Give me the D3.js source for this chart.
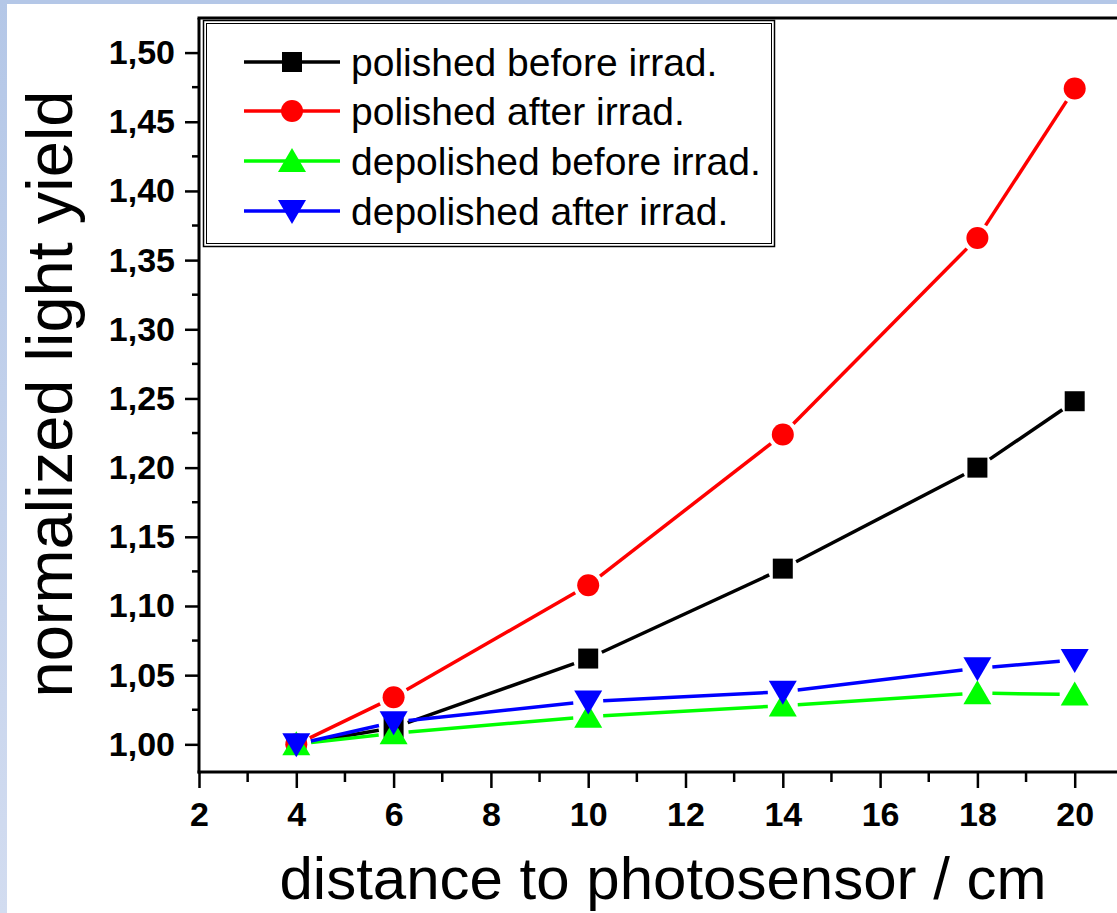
<!DOCTYPE html>
<html>
<head>
<meta charset="utf-8">
<script src="https://cdn.jsdelivr.net/npm/d3@7"></script>
<style>
  html, body { margin: 0; padding: 0; background: #fff; }
  svg { display: block; }
</style>
</head>
<body>
<svg id="chart" width="1117" height="913"></svg>
<script>
// distance to photosensor (cm)
const distances = [4, 6, 10, 14, 18, 20];

// normalized light yield per sample
const polishedBefore   = [1.000, 1.012, 1.062, 1.127, 1.200, 1.248];
const polishedAfter    = [1.000, 1.034, 1.115, 1.224, 1.366, 1.474];
const depolishedBefore = [1.000, 1.008, 1.020, 1.028, 1.037, 1.036];
const depolishedAfter  = [1.000, 1.016, 1.031, 1.038, 1.055, 1.061];

const seriesNames = [
  "polished before irrad.",
  "polished after irrad.",
  "depolished before irrad.",
  "depolished after irrad."
];

const xTickValues = [2, 4, 6, 8, 10, 12, 14, 16, 18, 20];
const yTickValues = [1.00, 1.05, 1.10, 1.15, 1.20, 1.25, 1.30, 1.35, 1.40, 1.45, 1.50];

const series = [
  { name: seriesNames[0], values: polishedBefore,   color: "#000000", symbol: "square" },
  { name: seriesNames[1], values: polishedAfter,    color: "#ff0000", symbol: "circle" },
  { name: seriesNames[2], values: depolishedBefore, color: "#00ff00", symbol: "up" },
  { name: seriesNames[3], values: depolishedAfter,  color: "#0000ff", symbol: "down" }
];

const svg = d3.select("#chart");
const W = 1117, H = 913;
const plotLeft = 199, plotRight = 1172, plotTop = 18, plotBottom = 772;

// page background with a pale blue frame on the top and left edges
const defs = svg.append("defs");
const grad = defs.append("linearGradient").attr("id", "edge").attr("x1", 0).attr("y1", 0).attr("x2", 0).attr("y2", 1);
grad.append("stop").attr("offset", "0%").attr("stop-color", "#b4c7e7");
grad.append("stop").attr("offset", "100%").attr("stop-color", "#d2dcf0");
svg.append("rect").attr("width", W).attr("height", H).attr("fill", "#ffffff");
svg.append("rect").attr("width", W).attr("height", 4).attr("fill", "#b4c7e7");
svg.append("rect").attr("width", 7).attr("height", H).attr("fill", "url(#edge)");

const x = d3.scaleLinear().domain([2, 22]).range([plotLeft, plotRight]);
const y = d3.scaleLinear().domain([0.98, 1.525]).range([plotBottom, plotTop]);

const tickFont = "'Liberation Sans', Arial, sans-serif";

// x axis: major ticks every 2 cm, minor every 1 cm
const xMinor = d3.range(3, 22, 2);
const xAxisG = svg.append("g").attr("transform", `translate(0,${plotBottom})`);
xAxisG.call(d3.axisBottom(x).tickValues(xTickValues).tickSize(16).tickFormat(d3.format("d")).tickPadding(14));
xAxisG.select(".domain").remove();
xAxisG.selectAll(".tick line").attr("stroke", "#000").attr("stroke-width", 2.5);
xAxisG.selectAll(".tick text")
  .attr("font-family", tickFont).attr("font-weight", "bold").attr("font-size", 34).attr("fill", "#000");
xAxisG.selectAll(".minor").data(xMinor).enter().append("line")
  .attr("x1", d => x(d)).attr("x2", d => x(d)).attr("y1", 0).attr("y2", 10)
  .attr("stroke", "#000").attr("stroke-width", 2.5);

// y axis: major ticks every 0.05, minor halfway between
const yMinor = d3.range(0, 11).map(i => 0.975 + i * 0.05).filter(v => v > 0.98 && v < 1.525);
const yAxisG = svg.append("g").attr("transform", `translate(${plotLeft},0)`);
yAxisG.call(d3.axisLeft(y).tickValues(yTickValues).tickSize(14).tickPadding(10)
  .tickFormat(d => d3.format(".2f")(d).replace(".", ",")));
yAxisG.select(".domain").remove();
yAxisG.selectAll(".tick line").attr("stroke", "#000").attr("stroke-width", 2.5);
yAxisG.selectAll(".tick text")
  .attr("font-family", tickFont).attr("font-weight", "bold").attr("font-size", 34).attr("fill", "#000");
yAxisG.selectAll(".minor").data(yMinor).enter().append("line")
  .attr("x1", -7).attr("x2", 0).attr("y1", d => y(d)).attr("y2", d => y(d))
  .attr("stroke", "#000").attr("stroke-width", 2.5);

// frame lines (left, bottom, top)
const frame = svg.append("g").attr("stroke", "#000").attr("stroke-width", 3);
frame.append("line").attr("x1", plotLeft).attr("x2", plotLeft).attr("y1", plotTop).attr("y2", plotBottom + 1.5);
frame.append("line").attr("x1", plotLeft - 1.5).attr("x2", plotRight).attr("y1", plotBottom).attr("y2", plotBottom);
frame.append("line").attr("x1", plotLeft - 1.5).attr("x2", plotRight).attr("y1", plotTop).attr("y2", plotTop);

// symbol drawing
function symbolPath(kind) {
  switch (kind) {
    case "square": return "M-10,-10H10V10H-10Z";
    case "circle": return d3.arc()({ innerRadius: 0, outerRadius: 11, startAngle: 0, endAngle: 2 * Math.PI });
    case "up":     return "M0,-13L14,11H-14Z";
    case "down":   return "M0,13L14,-11H-14Z";
  }
}

// connecting segments with a small gap around each symbol
const gap = 15;
const line = d3.line();
const plot = svg.append("g");
series.forEach(s => {
  const pts = distances.map((d, i) => [x(d), y(s.values[i])]);
  const g = plot.append("g");
  for (let i = 0; i < pts.length - 1; i++) {
    const [x0, y0] = pts[i], [x1, y1] = pts[i + 1];
    const len = Math.hypot(x1 - x0, y1 - y0);
    if (len <= 2 * gap) continue;
    const ux = (x1 - x0) / len, uy = (y1 - y0) / len;
    g.append("path")
      .attr("d", line([[x0 + ux * gap, y0 + uy * gap], [x1 - ux * gap, y1 - uy * gap]]))
      .attr("stroke", s.color).attr("stroke-width", 3.5).attr("fill", "none");
  }
  g.selectAll(".pt").data(pts).enter().append("path")
    .attr("transform", p => `translate(${p[0]},${p[1]})`)
    .attr("d", symbolPath(s.symbol))
    .attr("fill", s.color);
});

// legend box with double border
const lg = svg.append("g");
lg.append("rect").attr("x", 203.5).attr("y", 20.5).attr("width", 571).attr("height", 226)
  .attr("fill", "#fff").attr("stroke", "#000").attr("stroke-width", 1.5);
lg.append("rect").attr("x", 206.5).attr("y", 23.5).attr("width", 565).attr("height", 220)
  .attr("fill", "none").attr("stroke", "#000").attr("stroke-width", 1);
const rowY = [62, 111, 161, 211];
series.forEach((s, i) => {
  const row = lg.append("g").attr("transform", `translate(0,${rowY[i]})`);
  row.append("line").attr("x1", 244).attr("x2", 340).attr("y1", 0).attr("y2", 0)
    .attr("stroke", s.color).attr("stroke-width", 3.5);
  row.append("path").attr("transform", "translate(292,0)").attr("d", symbolPath(s.symbol)).attr("fill", s.color);
  row.append("text").attr("x", 351).attr("y", 0).attr("dy", "0.36em")
    .attr("font-family", tickFont).attr("font-size", 39).attr("fill", "#000")
    .text(s.name);
});

// axis titles
svg.append("text")
  .attr("x", 663).attr("y", 899).attr("text-anchor", "middle")
  .attr("font-family", tickFont).attr("font-size", 60).attr("fill", "#000")
  .text("distance to photosensor / cm");
svg.append("text")
  .attr("transform", "translate(72,394) rotate(-90)").attr("text-anchor", "middle")
  .attr("font-family", tickFont).attr("font-size", 65).attr("fill", "#000")
  .text("normalized light yield");
</script>
</body>
</html>
